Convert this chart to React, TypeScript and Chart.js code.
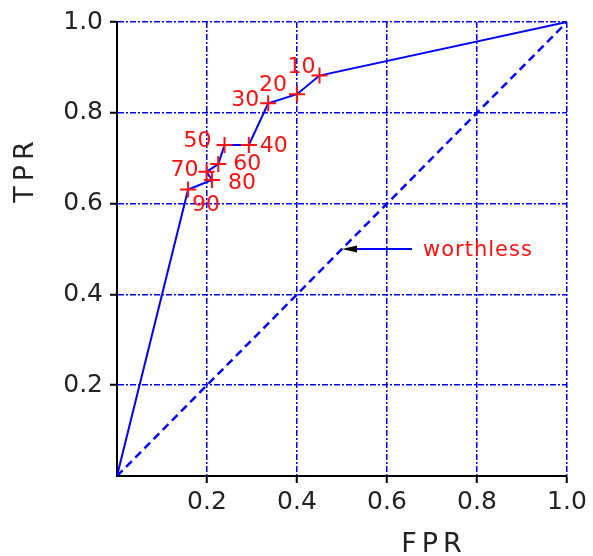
import React, { useEffect, useRef } from 'react';
import { Chart, registerables } from 'chart.js';

Chart.register(...registerables);

// ---- data ----
const thresholdLabels = ['10', '20', '30', '40', '50', '60', '70', '80', '90'];
const fprValues = [0.45, 0.40, 0.336, 0.293, 0.239, 0.225, 0.199, 0.211, 0.158];
const tprValues = [0.882, 0.841, 0.821, 0.729, 0.729, 0.687, 0.670, 0.652, 0.631];
const curveStart = { x: 0, y: 0 };
const curveEnd = { x: 1, y: 1 };
const diagonalX = [0, 1];
const diagonalY = [0, 1];
const axisTicks = [0.2, 0.4, 0.6, 0.8, 1.0];
const annotationText = 'worthless';
const annotationX = 0.5;
const annotationY = 0.5;
const xTitle = 'FPR';
const yTitle = 'TPR';

// ---- label placement (pixel offsets from each marker) ----
const LABEL_OFFSETS: [number, number][] = [
  [-18, -8.5], [-24, -8.5], [-23, -2.5], [25, 1], [-27, -4],
  [29, 0], [-22, -2], [30, 3], [18, 16],
];

const FONT = '"DejaVu Sans", Verdana, sans-serif';

const annotationsPlugin = {
  id: 'rocAnnotations',
  afterDatasetsDraw(chart: any) {
    const { ctx, scales } = chart;
    const xs = scales.x, ys = scales.y;
    ctx.save();
    // threshold labels
    ctx.fillStyle = '#ff1010';
    ctx.font = `22px ${FONT}`;
    ctx.textAlign = 'center';
    ctx.textBaseline = 'middle';
    thresholdLabels.forEach((lab, i) => {
      const px = xs.getPixelForValue(fprValues[i]);
      const py = ys.getPixelForValue(tprValues[i]);
      const [dx, dy] = LABEL_OFFSETS[i];
      ctx.fillText(lab, px + dx, py + dy);
    });
    // arrow to the diagonal
    const tx = xs.getPixelForValue(annotationX);
    const ty = ys.getPixelForValue(annotationY);
    ctx.strokeStyle = '#0000ff';
    ctx.lineWidth = 2;
    ctx.beginPath();
    ctx.moveTo(tx + 70, ty);
    ctx.lineTo(tx + 13, ty);
    ctx.stroke();
    ctx.fillStyle = '#000';
    ctx.beginPath();
    ctx.moveTo(tx, ty);
    ctx.lineTo(tx + 15, ty - 3.5);
    ctx.lineTo(tx + 15, ty + 3.5);
    ctx.closePath();
    ctx.fill();
    // annotation text
    ctx.fillStyle = '#ff1010';
    ctx.font = `21px ${FONT}`;
    ctx.textAlign = 'left';
    ctx.textBaseline = 'middle';
    (ctx as any).letterSpacing = '1px';
    ctx.fillText(annotationText, tx + 81, ty + 1.5);
    (ctx as any).letterSpacing = '0px';
    ctx.restore();
  },
  afterDraw(chart: any) {
    const { ctx } = chart;
    ctx.save();
    ctx.fillStyle = '#222';
    ctx.font = `27px ${FONT}`;
    ctx.textAlign = 'center';
    ctx.textBaseline = 'middle';
    (ctx as any).letterSpacing = '5px';
    ctx.fillText(xTitle, 434, 545);
    ctx.translate(26, 172);
    ctx.rotate(-Math.PI / 2);
    ctx.fillText(yTitle, 2.5, 0);
    (ctx as any).letterSpacing = '0px';
    ctx.restore();
  },
};

const gridOpts = {
  color: '#0000ff',
  lineWidth: 1.5,
  tickColor: '#000',
  tickWidth: 2,
  tickLength: 7,
};

export default function App() {
  const ref = useRef<HTMLCanvasElement | null>(null);
  useEffect(() => {
    document.body.style.margin = '0';
    if (!ref.current) return;
    const points = fprValues.map((x, i) => ({ x, y: tprValues[i] }));
    const curve = [curveStart, ...points.slice().reverse(), curveEnd];
    const chart = new Chart(ref.current, {
      type: 'scatter',
      data: {
        datasets: [
          {
            label: 'thresholds',
            data: points,
            showLine: false,
            pointStyle: 'cross',
            pointRadius: 8,
            pointBorderWidth: 2,
            pointBorderColor: '#ff1010',
            pointBackgroundColor: '#ff1010',
          },
          {
            label: 'ROC',
            data: curve,
            showLine: true,
            borderColor: '#0000ff',
            borderWidth: 2,
            pointRadius: 0,
            tension: 0,
          },
          {
            label: 'diagonal',
            data: diagonalX.map((x, i) => ({ x, y: diagonalY[i] })),
            showLine: true,
            borderColor: '#0000ff',
            borderWidth: 2.5,
            borderDash: [8, 5],
            pointRadius: 0,
          },
        ],
      },
      options: {
        animation: false,
        responsive: false,
        events: [],
        layout: { padding: { left: 0, top: 21, right: 26, bottom: 0 } },
        plugins: { legend: { display: false }, tooltip: { enabled: false } },
        scales: {
          x: {
            type: 'linear',
            min: 0,
            max: 1,
            afterBuildTicks: (s: any) => { s.ticks = axisTicks.map((v) => ({ value: v })); },
            afterFit: (s: any) => { s.height = 80; },
            grid: gridOpts,
            border: { display: true, color: '#000', width: 2, dash: [6, 2, 2, 2] },
            ticks: {
              color: '#222',
              font: { family: FONT, size: 25 },
              padding: 4,
              maxRotation: 0,
              autoSkip: false,
              callback: (v: any) => Number(v).toFixed(1),
            },
          },
          y: {
            type: 'linear',
            min: 0,
            max: 1,
            afterBuildTicks: (s: any) => { s.ticks = axisTicks.map((v) => ({ value: v })); },
            afterFit: (s: any) => { s.width = 117; },
            grid: gridOpts,
            border: { display: true, color: '#000', width: 2, dash: [6, 2, 2, 2] },
            ticks: {
              color: '#222',
              font: { family: FONT, size: 25 },
              padding: 7,
              autoSkip: false,
              callback: (v: any) => Number(v).toFixed(1),
            },
          },
        },
      },
      plugins: [annotationsPlugin],
    });
    return () => chart.destroy();
  }, []);
  return (
    <div style={{ width: 593, height: 556 }}>
      <canvas ref={ref} width={593} height={556} style={{ display: 'block' }} />
    </div>
  );
}
